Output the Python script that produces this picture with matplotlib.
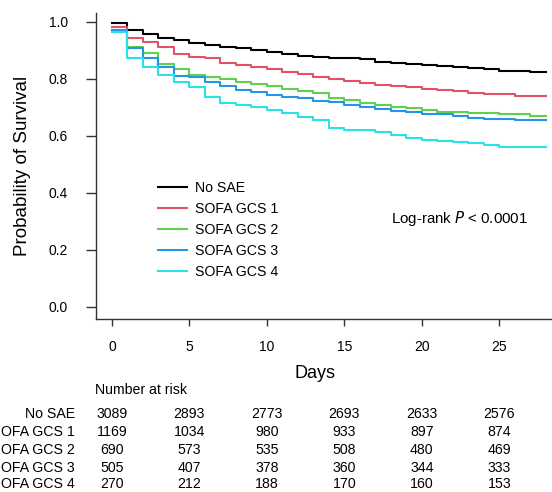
import numpy as np
import matplotlib
matplotlib.use('Agg')
import matplotlib.pyplot as plt

plt.rcParams['font.family'] = ['Liberation Sans', 'DejaVu Sans']

# Survival estimate on each day interval [d, d+1), days 0..27
days = np.arange(0, 29)
no_sae = [0.997, 0.971, 0.956, 0.944, 0.936, 0.927, 0.920, 0.912, 0.907, 0.901,
          0.895, 0.887, 0.881, 0.876, 0.874, 0.872, 0.868, 0.860, 0.856, 0.852,
          0.847, 0.845, 0.842, 0.838, 0.836, 0.829, 0.828, 0.825]
gcs1 = [0.981, 0.942, 0.928, 0.910, 0.887, 0.877, 0.872, 0.856, 0.848, 0.840,
        0.834, 0.825, 0.817, 0.807, 0.801, 0.793, 0.784, 0.778, 0.774, 0.772,
        0.765, 0.760, 0.757, 0.751, 0.746, 0.745, 0.740, 0.738]
gcs2 = [0.968, 0.910, 0.889, 0.852, 0.836, 0.813, 0.808, 0.799, 0.789, 0.781,
        0.775, 0.766, 0.757, 0.749, 0.731, 0.725, 0.714, 0.708, 0.702, 0.696,
        0.690, 0.684, 0.682, 0.681, 0.679, 0.676, 0.676, 0.669]
gcs3 = [0.970, 0.909, 0.872, 0.842, 0.809, 0.805, 0.789, 0.775, 0.760, 0.752,
        0.743, 0.737, 0.731, 0.722, 0.717, 0.708, 0.702, 0.694, 0.688, 0.682,
        0.677, 0.676, 0.670, 0.663, 0.659, 0.658, 0.655, 0.654]
gcs4 = [0.965, 0.874, 0.842, 0.815, 0.789, 0.770, 0.737, 0.714, 0.708, 0.700,
        0.690, 0.679, 0.667, 0.655, 0.628, 0.622, 0.620, 0.614, 0.603, 0.593,
        0.584, 0.581, 0.579, 0.573, 0.567, 0.561, 0.561, 0.560]

group_names = ['No SAE', 'SOFA GCS 1', 'SOFA GCS 2', 'SOFA GCS 3', 'SOFA GCS 4']
group_colors = ['black', '#DF536B', '#61D04F', '#2297E6', '#28E2E5']
curves = [no_sae, gcs1, gcs2, gcs3, gcs4]

# Number at risk (row labels as they appear, left part cropped in the source)
risk_labels = ['No SAE', 'OFA GCS 1', 'OFA GCS 2', 'OFA GCS 3', 'OFA GCS 4']
risk_days = [0, 5, 10, 15, 20, 25]
risk_no_sae = [3089, 2893, 2773, 2693, 2633, 2576]
risk_gcs1 = [1169, 1034, 980, 933, 897, 874]
risk_gcs2 = [690, 573, 535, 508, 480, 469]
risk_gcs3 = [505, 407, 378, 360, 344, 333]
risk_gcs4 = [270, 212, 188, 170, 160, 153]
risk_table = [risk_no_sae, risk_gcs1, risk_gcs2, risk_gcs3, risk_gcs4]

W, H = 552, 492
fig = plt.figure(figsize=(W / 100, H / 100), dpi=100)
ax = fig.add_axes([96 / W, 1 - 319 / H, 1 - 96 / W, (319 - 13) / H])

for vals, name, col in zip(curves, group_names, group_colors):
    y = list(vals) + [vals[-1]]
    ax.step(days, y, where='post', color=col, lw=1.5, label=name)

ax.set_xlim(-1.03, 28.4)
ax.set_ylim(-0.043, 1.031)
ax.set_xticks([0, 5, 10, 15, 20, 25])
ax.set_yticks([0.0, 0.2, 0.4, 0.6, 0.8, 1.0])
ax.set_yticklabels(['0.0', '0.2', '0.4', '0.6', '0.8', '1.0'])
for s in ['top', 'right']:
    ax.spines[s].set_visible(False)
for s in ['left', 'bottom']:
    ax.spines[s].set_color('#333333')
    ax.spines[s].set_linewidth(1.0)
ax.tick_params(axis='y', direction='out', length=7, width=1, color='#333333',
               labelsize=10, pad=13)
ax.tick_params(axis='x', direction='out', length=5, width=1, color='#333333',
               labelsize=10, pad=10)

# axis titles
fig.text(23 / W, 1 - 166 / H, 'Probability of Survival', fontsize=13.5,
         rotation=90, ha='center', va='center')
fig.text(315.5 / W, 1 - 373 / H, 'Days', fontsize=13, ha='center', va='center')

ax.legend(loc='upper left', bbox_to_anchor=((152 - 96) / (W - 96), (319 - 175) / 306),
          frameon=False, fontsize=10.2, handlelength=2.1, handletextpad=0.55,
          labelspacing=0.5, borderaxespad=0)

fig.text(391 / W, 1 - 219 / H, 'Log-rank $\\it{P}$ < 0.0001', fontsize=10.8,
         ha='left', va='center')

# number-at-risk table
fig.text(95 / W, 1 - 390 / H, 'Number at risk', fontsize=10.2, ha='left', va='center')
row_y = [414, 432, 450.5, 467.5, 484]
trans = matplotlib.transforms.blended_transform_factory(ax.transData, fig.transFigure)
for name, counts, yp in zip(risk_labels, risk_table, row_y):
    fig.text(75 / W, 1 - yp / H, name, fontsize=10.2, ha='right', va='center')
    for d, n in zip(risk_days, counts):
        ax.text(d, 1 - yp / H, str(n), transform=trans, fontsize=10.2,
                ha='center', va='center', clip_on=False)

fig.savefig('out.png', dpi=100)
